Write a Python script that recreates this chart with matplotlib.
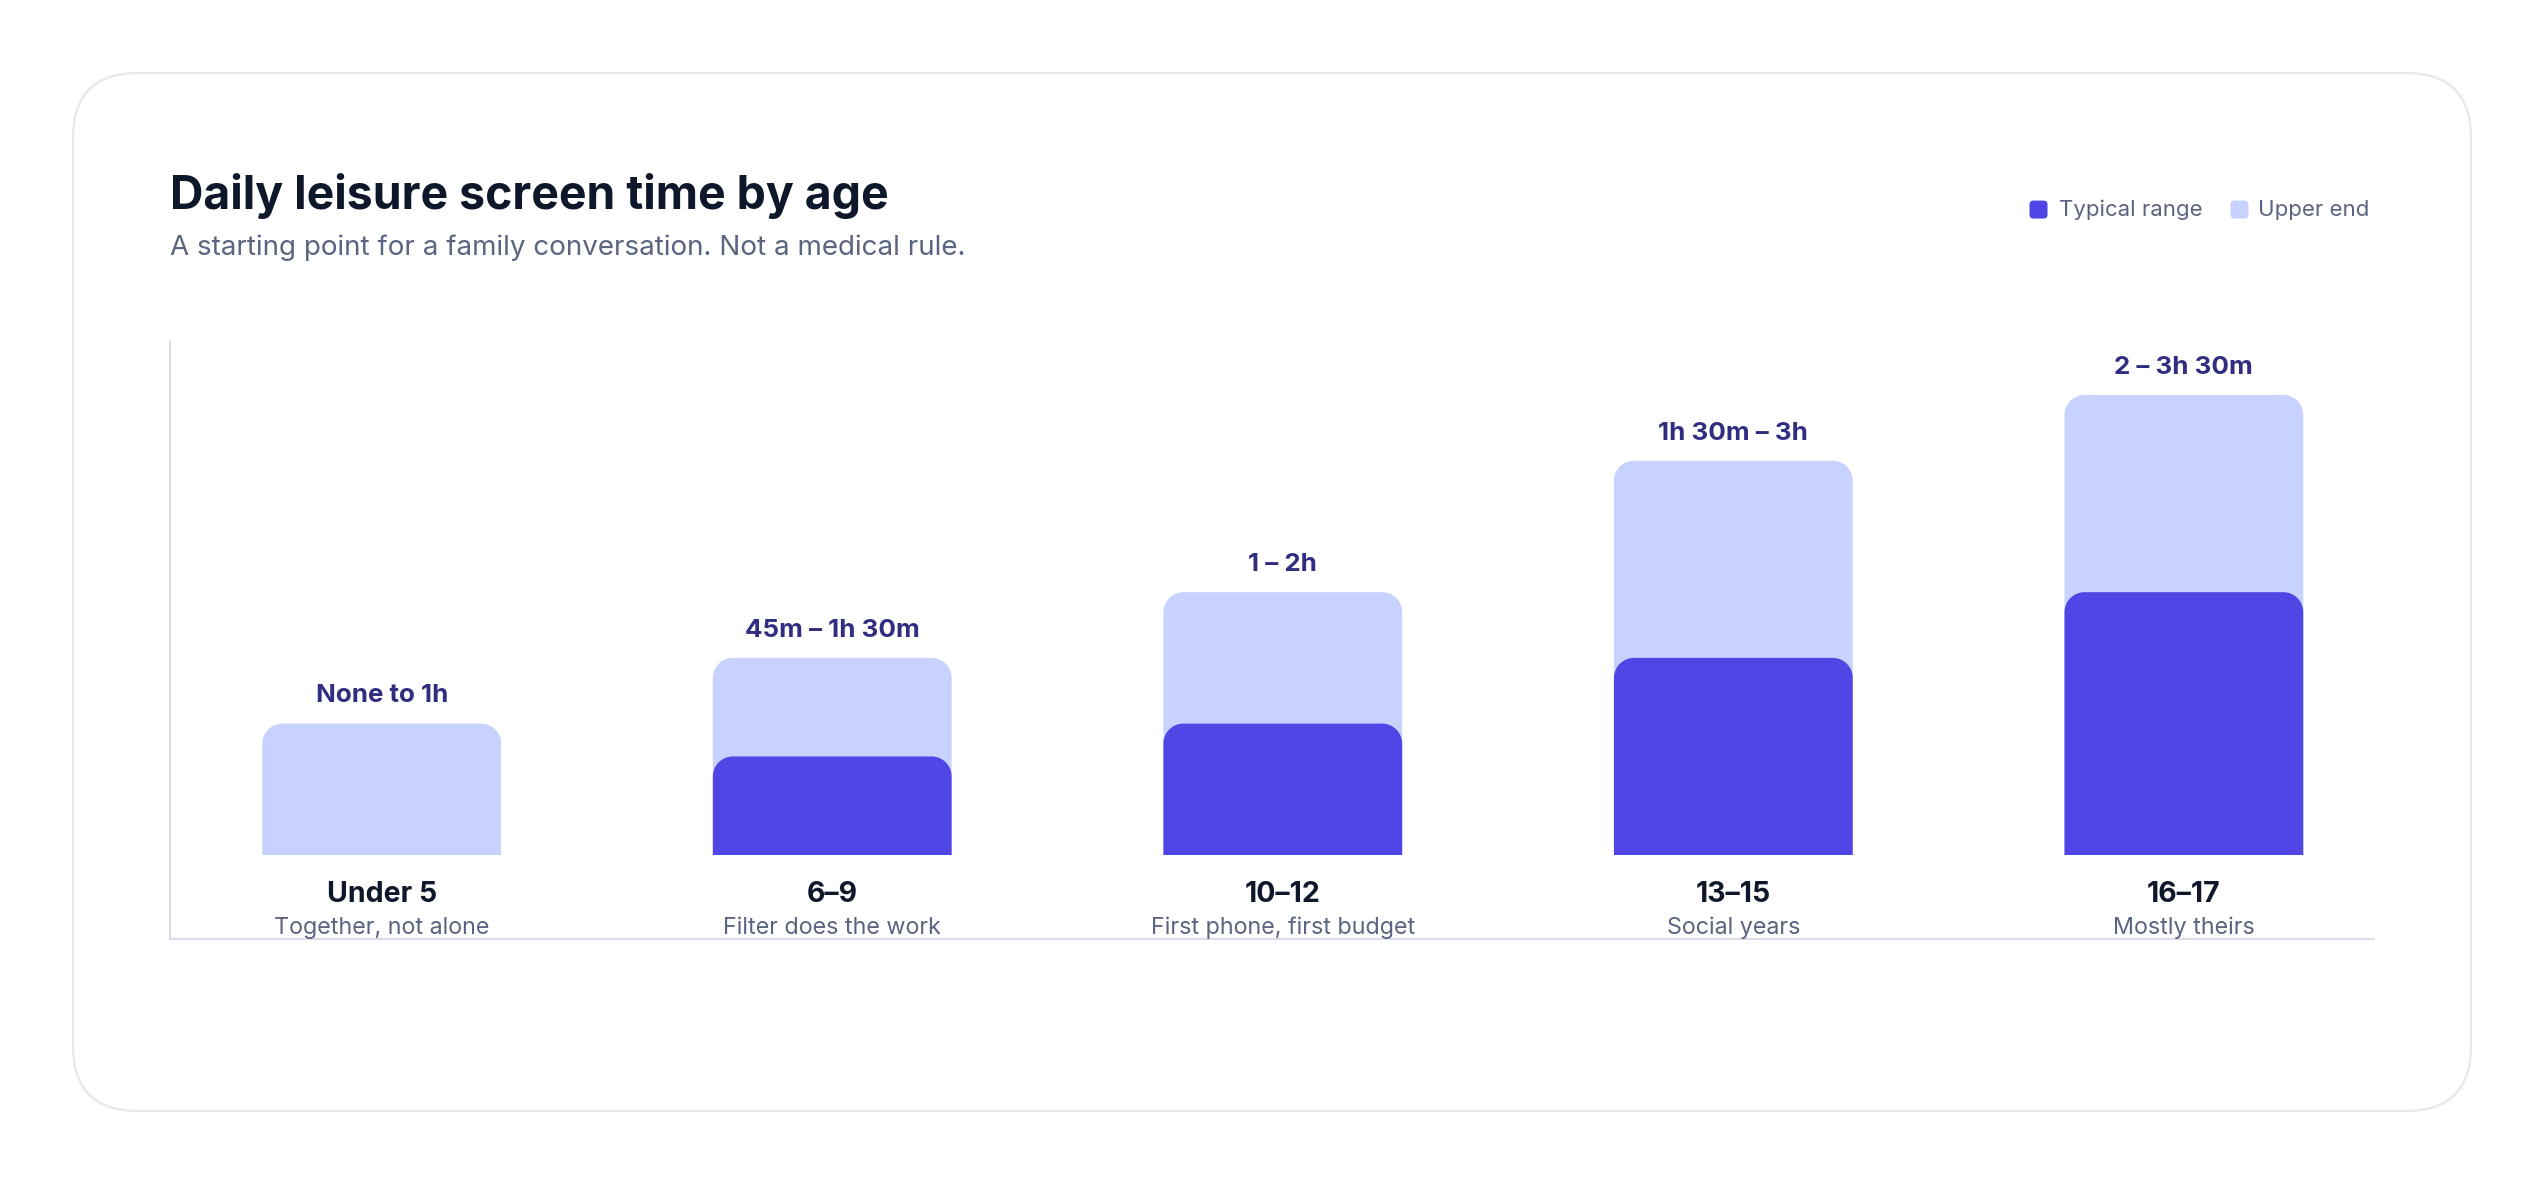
import matplotlib
matplotlib.use("Agg")
import matplotlib.pyplot as plt
from matplotlib.patches import FancyBboxPatch, PathPatch
from matplotlib.path import Path
from matplotlib.transforms import IdentityTransform

plt.rcParams['font.family'] = ['Inter', 'DejaVu Sans']

# data (hours per day)
ages = ["Under 5", "6–9", "10–12", "13–15", "16–17"]
notes = ["Together, not alone", "Filter does the work", "First phone, first budget",
         "Social years", "Mostly theirs"]
typical = [0, 0.75, 1, 1.5, 2]
upper = [1, 1.5, 2, 3, 3.5]
range_labels = ["None to 1h", "45m – 1h 30m", "1 – 2h", "1h 30m – 3h", "2 – 3h 30m"]

DARK = "#4f46e5"
LIGHT = "#c7d2fe"
INK = "#0f172a"
MUTED = "#5b6480"
LABEL = "#312e81"

fig = plt.figure(figsize=(25.44, 11.84), dpi=100)
fig.patch.set_facecolor("white")

# card
card = FancyBboxPatch((73, 73), 2398, 1038, boxstyle="round,pad=0,rounding_size=65",
                      transform=IdentityTransform(), facecolor="white",
                      edgecolor="#e5e7eb", linewidth=1.5, zorder=-10)
fig.patches.append(card)

ax = fig.add_axes([0.0668, 0.2066, 0.8662, 0.5057])
ax.set_xlim(-0.470, 4.421)
ax.set_ylim(-0.642, 3.914)
ax.set_facecolor("none")
for s in ["top", "right"]:
    ax.spines[s].set_visible(False)
for s in ["left", "bottom"]:
    ax.spines[s].set_color("#d6d6e8")
    ax.spines[s].set_linewidth(1.2)
ax.set_xticks([])
ax.set_yticks([])


def rounded_top(rect, r_px=20):
    x, y = rect.get_x(), rect.get_y()
    w, h = rect.get_width(), rect.get_height()
    inv = ax.transData.inverted()
    (ax0, ay0), (ax1, ay1) = inv.transform([(0, 0), (r_px, r_px)])
    rx, ry = ax1 - ax0, ay1 - ay0
    k = 0.5523
    verts = [(x, y), (x + w, y), (x + w, y + h - ry),
             (x + w, y + h - ry + k * ry), (x + w - rx + k * rx, y + h), (x + w - rx, y + h),
             (x + rx, y + h),
             (x + rx - k * rx, y + h), (x, y + h - ry + k * ry), (x, y + h - ry),
             (x, y)]
    codes = [Path.MOVETO, Path.LINETO, Path.LINETO,
             Path.CURVE4, Path.CURVE4, Path.CURVE4,
             Path.LINETO,
             Path.CURVE4, Path.CURVE4, Path.CURVE4,
             Path.CLOSEPOLY]
    p = PathPatch(Path(verts, codes), facecolor=rect.get_facecolor(), edgecolor="none")
    ax.add_patch(p)
    rect.set_visible(False)


xs = list(range(len(ages)))
bars_up = ax.bar(xs, upper, width=0.53, color=LIGHT)
bars_ty = ax.bar(xs, typical, width=0.53, color=DARK)
for r in bars_up:
    rounded_top(r)
for r in bars_ty:
    if r.get_height() > 0:
        rounded_top(r)
    else:
        r.set_visible(False)

for i in xs:
    ax.text(i, upper[i] + 0.21, range_labels[i], ha="center", va="center",
            fontsize=18.7, fontweight="bold", color=LABEL)
    ax.text(i, -0.297, ages[i], ha="center", va="center",
            fontsize=20.5, fontweight="bold", color=INK)
    ax.text(i, -0.555, notes[i], ha="center", va="center",
            fontsize=16.8, color=MUTED)

# title + subtitle
fig.text(0.0668, 0.8235, "Daily leisure screen time by age", ha="left", va="baseline",
         fontsize=33.4, fontweight="bold", color=INK)
fig.text(0.0668, 0.7905, "A starting point for a family conversation. Not a medical rule.",
         ha="left", va="center", fontsize=20, color=MUTED)

# legend
for cx, col, tx, lab in [(0.8013, DARK, 0.8093, "Typical range"),
                         (0.8803, LIGHT, 0.8877, "Upper end")]:
    sq = FancyBboxPatch((cx * 2544 - 9, 0.823 * 1184 - 9), 18, 18,
                        boxstyle="round,pad=0,rounding_size=4",
                        transform=IdentityTransform(), facecolor=col, edgecolor="none")
    fig.patches.append(sq)
    fig.text(tx, 0.823, lab, ha="left", va="center", fontsize=16, color=MUTED)

fig.savefig("out.png", dpi=100, facecolor="white")
